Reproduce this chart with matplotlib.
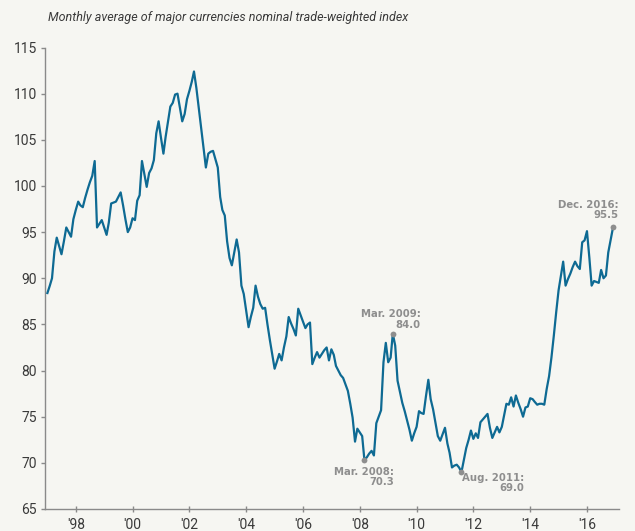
import matplotlib
matplotlib.use("Agg")
import matplotlib.pyplot as plt
import matplotlib.dates as mdates
import numpy as np
import pandas as pd

# ---- data: monthly values, Jan 1997 .. Dec 2016 ----
v1997 = [88.4, 89.2, 90.0, 92.9, 94.4, 93.5, 92.6, 94.0, 95.5, 95.0, 94.5, 96.4]
v1998 = [97.4, 98.3, 97.9, 97.7, 98.7, 99.6, 100.4, 101.1, 102.7, 95.5, 95.9, 96.3]
v1999 = [95.5, 94.7, 96.0, 98.1, 98.2, 98.3, 98.8, 99.3, 97.9, 96.4, 95.0, 95.5]
v2000 = [96.5, 96.3, 98.4, 99.0, 102.7, 101.3, 99.9, 101.4, 101.9, 102.8, 105.7, 107.0]
v2001 = [105.2, 103.5, 105.3, 107.0, 108.6, 109.0, 109.9, 110.0, 108.5, 107.0, 107.8, 109.4]
v2002 = [110.3, 111.3, 112.4, 110.6, 108.5, 106.4, 104.2, 102.0, 103.5, 103.7, 103.8, 102.9]
v2003 = [102.0, 98.8, 97.4, 96.8, 94.0, 92.2, 91.4, 92.8, 94.2, 92.8, 89.2, 88.3]
v2004 = [86.5, 84.7, 85.8, 86.8, 89.2, 88.0, 87.2, 86.7, 86.8, 85.0, 83.3, 81.8]
v2005 = [80.2, 81.0, 81.8, 81.1, 82.5, 83.7, 85.8, 85.1, 84.5, 83.8, 86.7, 86.0]
v2006 = [85.3, 84.6, 85.0, 85.2, 80.7, 81.4, 82.0, 81.4, 81.8, 82.2, 82.5, 81.1]
v2007 = [82.3, 81.7, 80.5, 80.0, 79.5, 79.2, 78.5, 77.8, 76.4, 74.9, 72.3, 73.7]
v2008 = [73.3, 72.9, 70.3, 70.6, 71.0, 71.3, 70.8, 74.3, 75.0, 75.7, 80.9, 83.0]
v2009 = [80.9, 81.4, 84.0, 82.7, 78.9, 77.7, 76.5, 75.6, 74.6, 73.6, 72.4, 73.2]
v2010 = [73.9, 75.6, 75.4, 75.3, 77.2, 79.0, 76.9, 75.8, 74.3, 72.9, 72.4, 73.1]
v2011 = [73.8, 72.1, 71.1, 69.5, 69.7, 69.8, 69.5, 69.0, 70.3, 71.6, 72.5, 73.5]
v2012 = [72.6, 73.2, 72.7, 74.4, 74.7, 75.0, 75.3, 73.8, 72.7, 73.3, 73.9, 73.3]
v2013 = [73.9, 75.2, 76.4, 76.3, 77.1, 76.1, 77.3, 76.5, 75.8, 75.0, 76.0, 76.1]
v2014 = [77.0, 76.9, 76.6, 76.3, 76.4, 76.4, 76.3, 78.0, 79.4, 81.4, 83.8, 86.3]
v2015 = [88.7, 90.3, 91.8, 89.2, 89.9, 90.5, 91.2, 91.8, 91.3, 91.0, 93.9, 94.1]
v2016 = [95.1, 92.2, 89.2, 89.7, 89.6, 89.5, 90.9, 90.0, 90.3, 92.8, 94.2, 95.5]

values = (v1997 + v1998 + v1999 + v2000 + v2001 + v2002 + v2003 + v2004 + v2005 + v2006 +
          v2007 + v2008 + v2009 + v2010 + v2011 + v2012 + v2013 + v2014 + v2015 + v2016)
dates = pd.date_range("1997-01-01", periods=len(values), freq="MS")

# annotated points: (month, label, text offset px, ha, va)
ann_dates = ["2008-03-01", "2009-03-01", "2011-08-01", "2016-12-01"]
ann_labels = ["Mar. 2008:\n70.3", "Mar. 2009:\n84.0", "Aug. 2011:\n69.0", "Dec. 2016:\n95.5"]

title = "Monthly average of major currencies nominal trade-weighted index"
y_ticks = [65, 70, 75, 80, 85, 90, 95, 100, 105, 110, 115]

# ---- style ----
bg = "#f6f6f2"
line_c = "#0e6a93"
gray = "#8e8e8e"
axis_c = "#8a8a8a"
text_c = "#3a3a3a"

fig = plt.figure(figsize=(6.35, 5.31), dpi=100, facecolor=bg)
W, H = 635, 531
ax = fig.add_axes([45 / W, 1 - 509 / H, (619 - 45) / W, (509 - 47.5) / H])
ax.set_facecolor(bg)

ax.plot(dates, values, color=line_c, lw=1.6, solid_joinstyle="round", zorder=3)

ser = pd.Series(values, index=dates)
offsets = [(30, -7, "right", "top"), (28, 4, "right", "bottom"),
           (63, -1, "right", "top"), (6, 7, "right", "bottom")]
for d, lab, (dx, dy, ha, va) in zip(ann_dates, ann_labels, offsets):
    dt = pd.Timestamp(d)
    yv = ser[dt]
    ax.plot([dt], [yv], "o", color=gray, ms=4.2, zorder=4, mec="none")
    ax.annotate(lab, xy=(dt, yv), xytext=(dx, dy), textcoords="offset pixels",
                ha=ha, va=va, fontsize=7.3, fontweight="bold", color=gray,
                family="DejaVu Sans", linespacing=1.05, multialignment="right")

ax.set_ylim(65, 115)
ax.set_yticks(y_ticks)
ax.set_xlim(pd.Timestamp("1996-12-01"), pd.Timestamp("2017-02-16"))
ax.xaxis.set_major_locator(mdates.YearLocator(base=2))
ax.xaxis.set_major_formatter(mdates.DateFormatter("'%y"))

for s in ["top", "right"]:
    ax.spines[s].set_visible(False)
for s in ["left", "bottom"]:
    ax.spines[s].set_color(axis_c)
    ax.spines[s].set_linewidth(1.0)

ax.tick_params(axis="y", direction="out", length=3, width=1, color=axis_c,
               labelsize=10, labelcolor=text_c, pad=3)
ax.tick_params(axis="x", direction="inout", length=5, width=1, color=axis_c,
               labelsize=10, labelcolor=text_c, pad=4)
for lab in ax.get_xticklabels() + ax.get_yticklabels():
    lab.set_family("Roboto")

fig.text(48 / W, 1 - 17.5 / H, title, fontsize=9, style="italic", color=text_c,
         family="Roboto", ha="left", va="center")

fig.savefig("out.png", dpi=100, facecolor=bg)
